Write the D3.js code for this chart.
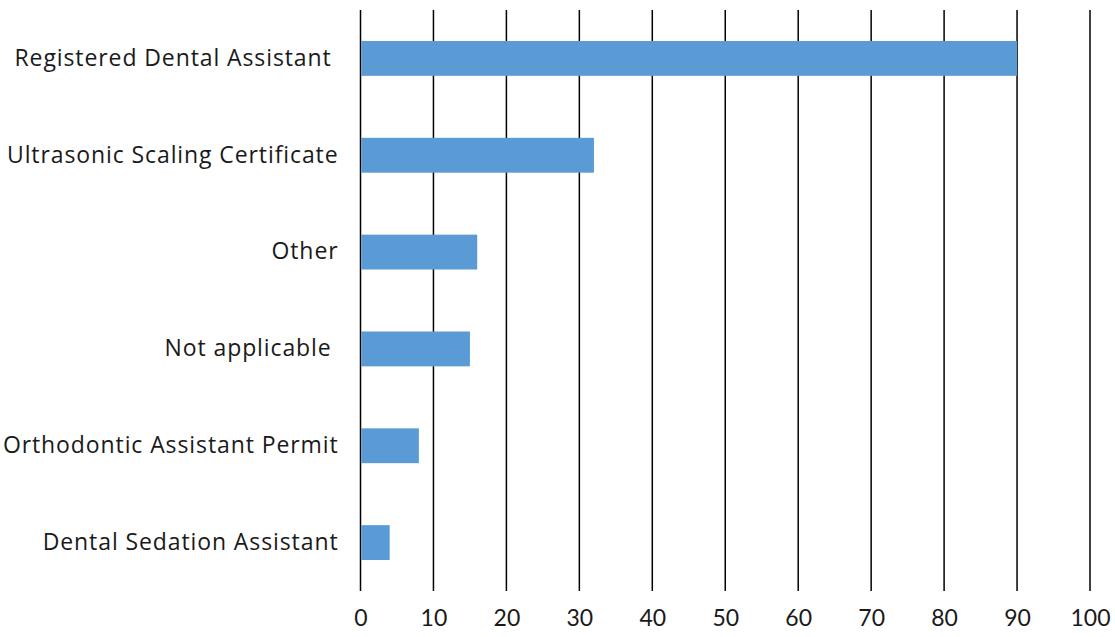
<!DOCTYPE html>
<html>
<head>
<meta charset="utf-8">
<script src="https://cdn.jsdelivr.net/npm/d3@7"></script>
<style>
  body { margin: 0; background: #fff; }
  text { font-family: "Open Sans", "Lato", sans-serif; fill: #1a1a1a; }
</style>
</head>
<body>
<svg id="chart" width="1115" height="637"></svg>
<script>
// categories, top to bottom
const categories = [
    "Registered Dental Assistant ",
    "Ultrasonic Scaling Certificate",
    "Other",
    "Not applicable ",
    "Orthodontic Assistant Permit",
    "Dental Sedation Assistant"
];
const values = [90, 32, 16, 15, 8, 4];
const xTicks = [0, 10, 20, 30, 40, 50, 60, 70, 80, 90, 100];

const svg = d3.select("#chart");
const margin = {top: 10, right: 25, bottom: 46, left: 360.5};
const width = +svg.attr("width") - margin.left - margin.right;
const height = +svg.attr("height") - margin.top - margin.bottom;
const g = svg.append("g").attr("transform", `translate(${margin.left},${margin.top})`);

const x = d3.scaleLinear().domain([0, 100]).range([0, width]);
const y = d3.scaleBand().domain(categories).range([0, height])
    .paddingInner(0.64).paddingOuter(0.32);

// vertical gridlines
g.append("g")
    .selectAll("line")
    .data(xTicks)
    .enter().append("line")
    .attr("x1", d => x(d)).attr("x2", d => x(d))
    .attr("y1", 0).attr("y2", height)
    .attr("stroke", "#000")
    .attr("stroke-width", 1.5);

// bars
g.selectAll(".bar")
    .data(values)
    .enter().append("rect")
    .attr("class", "bar")
    .attr("x", x(0) + 0.75)
    .attr("y", (d, i) => y(categories[i]))
    .attr("width", d => x(d) - x(0) - 0.75)
    .attr("height", y.bandwidth())
    .attr("fill", "#5b9bd5");

// x axis labels
const xAxis = g.append("g")
    .attr("transform", `translate(0,${height})`)
    .call(d3.axisBottom(x).tickValues(xTicks).tickSize(0).tickPadding(19));
xAxis.select(".domain").remove();
xAxis.selectAll("text").style("font-family", "Lato, sans-serif").style("font-size", "23px").attr("fill", "#1a1a1a");

// category labels
const yAxis = g.append("g")
    .call(d3.axisLeft(y).tickSize(0).tickPadding(22));
yAxis.select(".domain").remove();
yAxis.selectAll("text")
    .style("font-size", "23px")
    .style("letter-spacing", "0.9px")
    .style("white-space", "pre")
    .attr("fill", "#1a1a1a");
</script>
</body>
</html>
